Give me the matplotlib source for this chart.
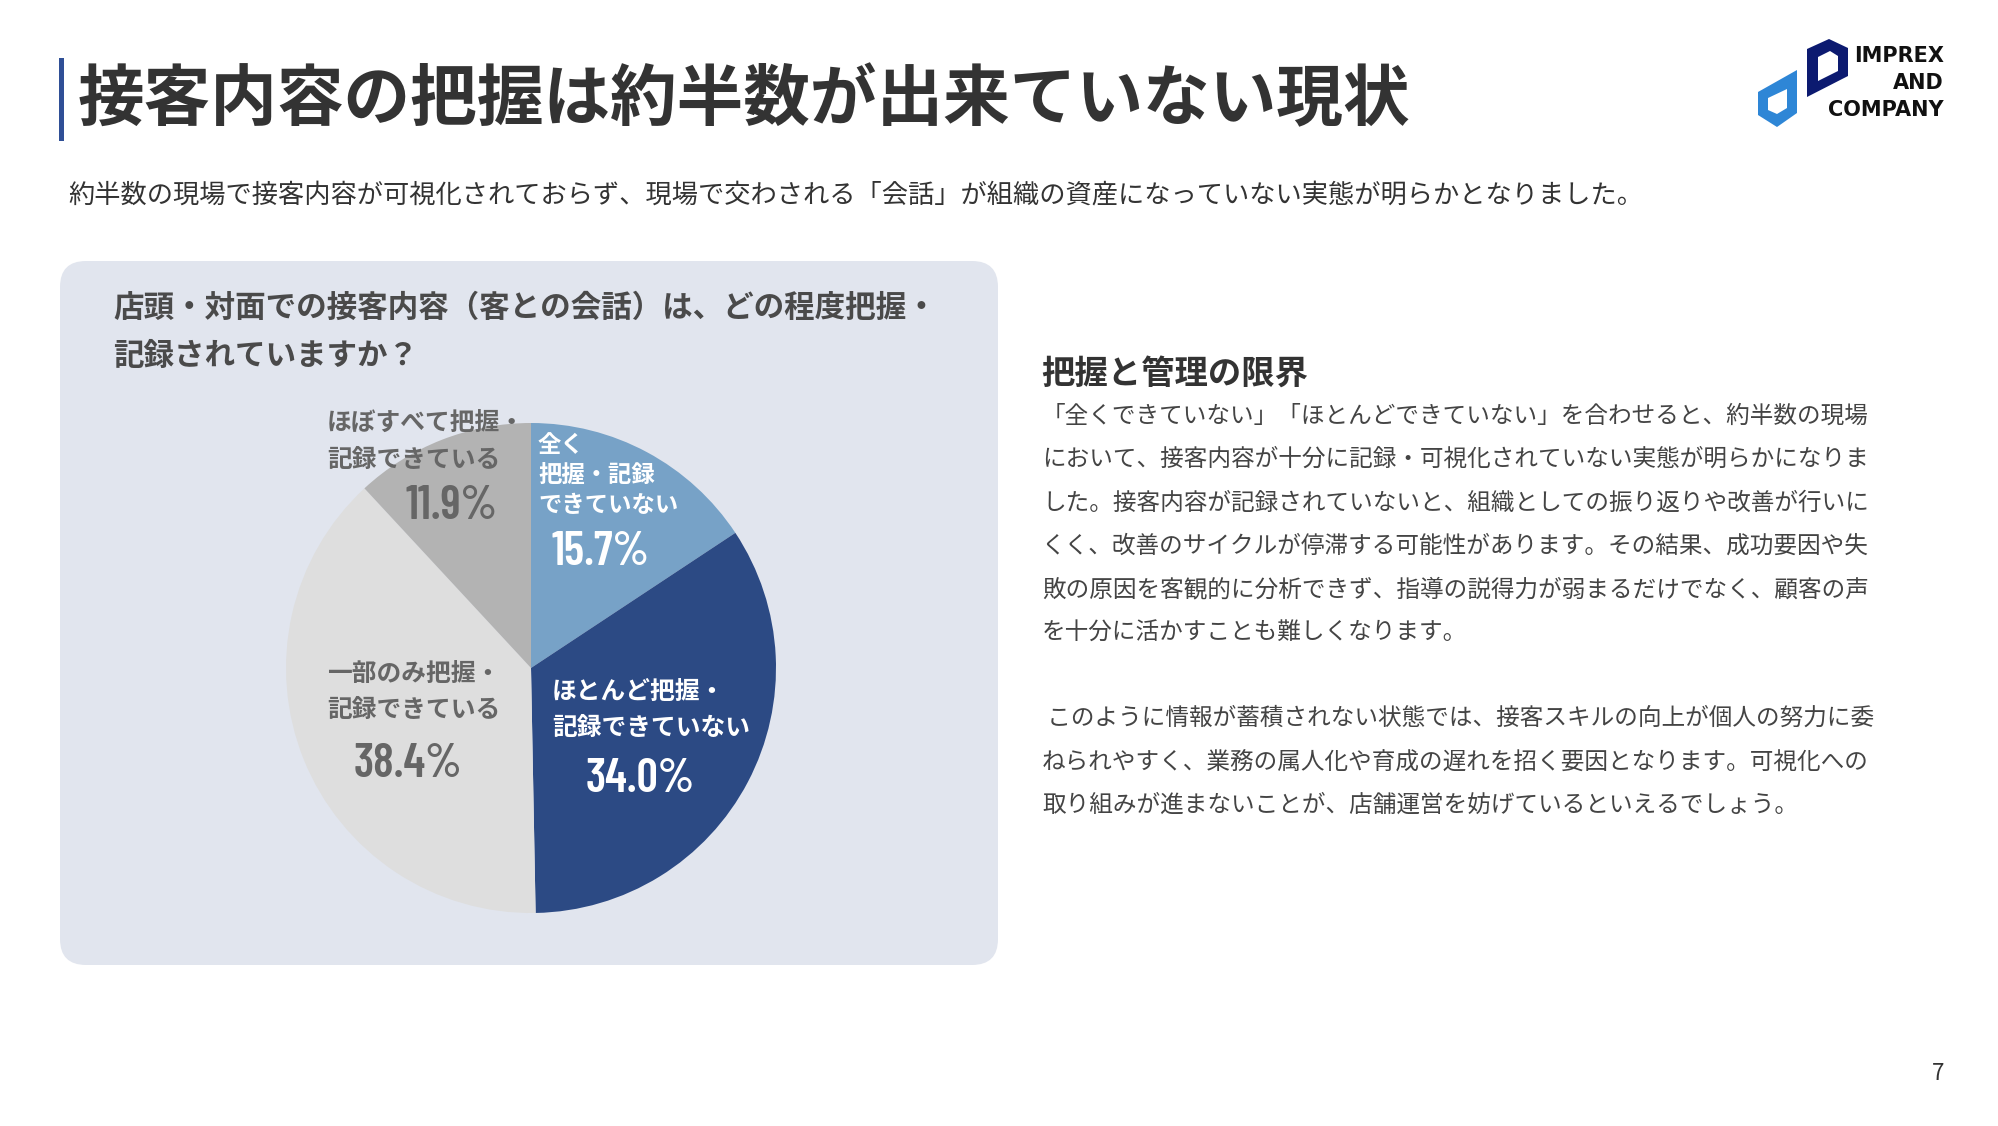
import matplotlib
matplotlib.use("Agg")
import matplotlib.pyplot as plt
from matplotlib.patches import FancyBboxPatch, Rectangle, Polygon

plt.rcParams['font.family'] = ['Noto Sans CJK JP', 'DejaVu Sans']

# データ（円グラフ、時計回り・12時スタート）
labels = ['全く\n把握・記録\nできていない', 'ほとんど把握・\n記録できていない',
          '一部のみ把握・\n記録できている', 'ほぼすべて把握・\n記録できている']
values = [15.7, 34.0, 38.4, 11.9]
colors = ['#77a2c7', '#2c4a84', '#dedede', '#b3b3b3']

title = '接客内容の把握は約半数が出来ていない現状'
subtitle = ('約半数の現場で接客内容が可視化されておらず、現場で交わされる「会話」が'
            '組織の資産になっていない実態が明らかとなりました。')
panel_title = ['店頭・対面での接客内容（客との会話）は、どの程度把握・', '記録されていますか？']
side_head = '把握と管理の限界'
side_lines = [
    '「全くできていない」「ほとんどできていない」を合わせると、約半数の現場',
    'において、接客内容が十分に記録・可視化されていない実態が明らかになりま',
    'した。接客内容が記録されていないと、組織としての振り返りや改善が行いに',
    'くく、改善のサイクルが停滞する可能性があります。その結果、成功要因や失',
    '敗の原因を客観的に分析できず、指導の説得力が弱まるだけでなく、顧客の声',
    'を十分に活かすことも難しくなります。',
]
side_lines2 = [
    ' このように情報が蓄積されない状態では、接客スキルの向上が個人の努力に委',
    'ねられやすく、業務の属人化や育成の遅れを招く要因となります。可視化への',
    '取り組みが進まないことが、店舗運営を妨げているといえるでしょう。',
]

W, H = 1999, 1126
fig = plt.figure(figsize=(W / 100, H / 100), dpi=100)
fig.patch.set_facecolor('white')

# 背景用（ピクセル座標）
bg = fig.add_axes([0, 0, 1, 1])
bg.set_xlim(0, W)
bg.set_ylim(H, 0)
bg.axis('off')

bg.add_patch(Rectangle((59, 58), 5, 83, color='#2f4f96', lw=0))
bg.add_patch(FancyBboxPatch((60, 261), 938, 704,
                            boxstyle='round,pad=0,rounding_size=26',
                            fc='#e1e5ee', ec='none'))

# ロゴ
bg.add_patch(Polygon([(1807, 49), (1829, 39), (1848, 48), (1848, 76), (1807, 97)],
                     closed=True, fc='#0c1a70', ec='none'))
bg.add_patch(Polygon([(1818, 57), (1830, 51), (1838, 56), (1838, 71), (1818, 81)],
                     closed=True, fc='white', ec='none'))
bg.add_patch(Polygon([(1758, 92), (1797, 70), (1797, 113), (1777, 127), (1758, 115)],
                     closed=True, fc='#2e86d6', ec='none'))
bg.add_patch(Polygon([(1768, 98), (1787, 89), (1787, 108), (1777, 114), (1768, 110)],
                     closed=True, fc='white', ec='none'))
for t, y in zip(['IMPREX', 'AND', 'COMPANY'], [56, 83, 110]):
    bg.text(1944, y, t, ha='right', va='center', fontsize=15, weight='bold',
            family=['DejaVu Sans'], color='#111111')

# 円グラフ
cx, cy, r = 531, 668, 245
pie_ax = fig.add_axes([(cx - r) / W, 1 - (cy + r) / H, 2 * r / W, 2 * r / H])
pie_ax.pie(values, colors=colors, startangle=90, counterclock=False,
           wedgeprops=dict(linewidth=0))
pie_ax.set_xlim(-1, 1)
pie_ax.set_ylim(-1, 1)
pie_ax.set_aspect('equal')
pie_ax.axis('off')

# 文字
fg = fig.add_axes([0, 0, 1, 1])
fg.set_xlim(0, W)
fg.set_ylim(H, 0)
fg.axis('off')
fg.patch.set_alpha(0)

fg.text(78, 101, title, fontsize=48, weight='bold', color='#333333', va='center')
fg.text(68, 195, subtitle, fontsize=18.9, color='#333333', va='center')
for i, line in enumerate(panel_title):
    fg.text(113, 308 + i * 48, line, fontsize=22, weight='bold', color='#4a4a4a', va='center')

fg.text(1041, 374, side_head, fontsize=24, weight='bold', color='#333333', va='center')
for i, line in enumerate(side_lines):
    fg.text(1042, 416 + i * 43.4, line, fontsize=17, color='#444444', va='center')
for i, line in enumerate(side_lines2):
    fg.text(1042, 718.5 + i * 43.2, line, fontsize=17, color='#444444', va='center')

fg.text(1938, 1074, '7', fontsize=16, color='#333333', ha='center', va='center')

num_font = ['Barlow Condensed', 'DejaVu Sans']
label_pos = [(538, 475), (552, 710), (327, 692), (327, 442)]
num_pos = [(601, 565), (640, 792), (408, 777), (452, 519)]
text_col = ['white', 'white', '#666666', '#666666']
for lab, v, (lx, ly), (nx, ny), c in zip(labels, values, label_pos, num_pos, text_col):
    three = lab.count('\n') == 2
    fg.text(lx, ly, lab, fontsize=16.8 if three else 17.8, weight='bold', color=c,
            va='center', ha='left', linespacing=1.33 if three else 1.66)
    fg.text(nx, ny, f'{v:.1f}%', fontsize=34, weight=600, color=c,
            ha='center', va='baseline', family=num_font)

fig.savefig('out.png', dpi=100, facecolor='white')
